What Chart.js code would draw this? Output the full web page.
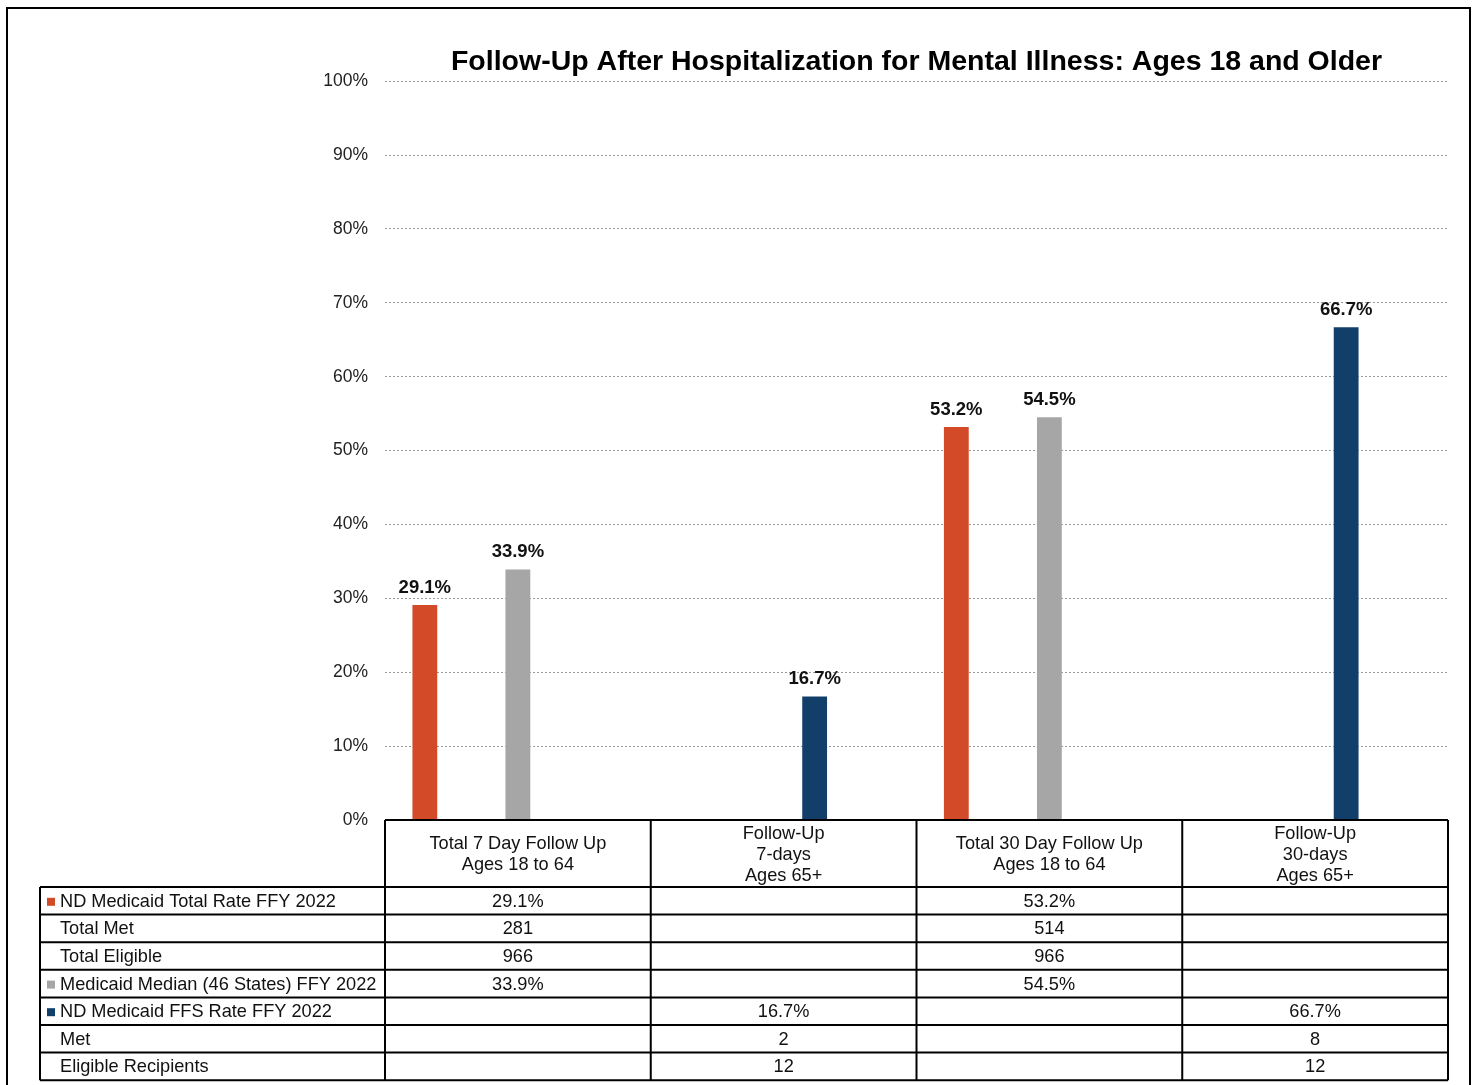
<!DOCTYPE html>
<html>
<head>
<meta charset="utf-8">
<script src="https://cdn.jsdelivr.net/npm/chart.js@4/dist/chart.umd.min.js"></script>
<style>
  html, body { margin: 0; padding: 0; background: #fff; }
  #wrap { position: relative; width: 1476px; height: 1085px; }
</style>
</head>
<body>
<div id="wrap"><canvas id="chart" width="1476" height="1085"></canvas></div>
<script>
// ----- DATA -----
const categories = [
  ['Total 7 Day Follow Up', 'Ages 18 to 64'],
  ['Follow-Up', '7-days', 'Ages 65+'],
  ['Total 30 Day Follow Up', 'Ages 18 to 64'],
  ['Follow-Up', '30-days', 'Ages 65+']
];
const ndTotalRate = [29.1, null, 53.2, null];
const ndTotalMet = [281, null, 514, null];
const ndTotalEligible = [966, null, 966, null];
const medianRate = [33.9, null, 54.5, null];
const ffsRate = [null, 16.7, null, 66.7];
const ffsMet = [null, 2, null, 8];
const ffsEligible = [null, 12, null, 12];
const yTicks = [0, 10, 20, 30, 40, 50, 60, 70, 80, 90, 100];

const FONT = "'Liberation Sans', Arial, sans-serif";
const RED = '#D34A29', GREY = '#A6A6A6', NAVY = '#123F6A';

// rows of the data table, in the same order as the datasets
function rateSet(label, data, color) {
  return { label, data, backgroundColor: color, yAxisID: 'y', isRate: true, key: color };
}
function countSet(label, data) {
  return { label, data, backgroundColor: 'rgba(0,0,0,0)', yAxisID: 'yCount', isRate: false };
}

// ----- PLUGINS -----
const frame = {
  id: 'frame',
  beforeDraw(chart) {
    const ctx = chart.ctx;
    ctx.save();
    ctx.fillStyle = '#fff';
    ctx.fillRect(0, 0, chart.width, chart.height);
    ctx.strokeStyle = '#000';
    ctx.lineWidth = 2;
    ctx.strokeRect(7, 8, 1463, 1100);
    ctx.restore();
  }
};

const barLabels = {
  id: 'barLabels',
  afterDatasetsDraw(chart) {
    const ctx = chart.ctx;
    ctx.save();
    ctx.font = 'bold 18.5px ' + FONT;
    ctx.fillStyle = '#111';
    ctx.textAlign = 'center';
    ctx.textBaseline = 'bottom';
    chart.data.datasets.forEach((ds, i) => {
      if (!ds.isRate) return;
      chart.getDatasetMeta(i).data.forEach((bar, j) => {
        const v = ds.data[j];
        if (v == null) return;
        ctx.fillText(v.toFixed(1) + '%', bar.x, bar.y - 8);
      });
    });
    ctx.restore();
  }
};

const dataTable = {
  id: 'dataTable',
  afterDraw(chart) {
    const { ctx, chartArea, scales: { x } } = chart;
    const n = chart.data.labels.length;
    const colW = (x.right - x.left) / n;
    const top = chartArea.bottom;
    const headH = 67, rowH = 27.6;
    const labelLeft = 40;
    const sets = chart.data.datasets;
    const bodyTop = top + headH;
    const bottom = bodyTop + sets.length * rowH;

    ctx.save();
    ctx.strokeStyle = '#000';
    ctx.lineWidth = 2;
    ctx.beginPath();
    // header
    ctx.moveTo(x.left, top); ctx.lineTo(x.right, top);
    for (let i = 0; i <= n; i++) {
      const cx = x.left + i * colW;
      ctx.moveTo(cx, top); ctx.lineTo(cx, bottom);
    }
    // body
    for (let r = 0; r <= sets.length; r++) {
      const y = bodyTop + r * rowH;
      ctx.moveTo(labelLeft, y); ctx.lineTo(x.right, y);
    }
    ctx.moveTo(labelLeft, bodyTop); ctx.lineTo(labelLeft, bottom);
    ctx.stroke();

    ctx.fillStyle = '#111';
    ctx.font = '18.2px ' + FONT;
    ctx.textBaseline = 'middle';

    // header labels
    ctx.textAlign = 'center';
    chart.data.labels.forEach((lines, i) => {
      const cx = x.getPixelForValue(i);
      const lh = 21;
      const y0 = top + headH / 2 - (lines.length - 1) * lh / 2 + 1;
      lines.forEach((t, k) => ctx.fillText(t, cx, y0 + k * lh));
    });

    // rows
    sets.forEach((ds, r) => {
      const cy = bodyTop + r * rowH + rowH / 2 + 1;
      if (ds.isRate) {
        ctx.fillStyle = ds.key;
        ctx.fillRect(47, cy - 4, 8, 8);
      }
      ctx.fillStyle = '#111';
      ctx.textAlign = 'left';
      ctx.fillText(ds.label, 60, cy);
      ctx.textAlign = 'center';
      ds.data.forEach((v, i) => {
        if (v == null) return;
        const txt = ds.isRate ? v.toFixed(1) + '%' : String(v);
        ctx.fillText(txt, x.getPixelForValue(i), cy);
      });
    });
    ctx.restore();
  }
};

// ----- CHART -----
new Chart(document.getElementById('chart'), {
  type: 'bar',
  data: {
    labels: categories,
    datasets: [
      rateSet('ND Medicaid Total Rate FFY 2022', ndTotalRate, RED),
      countSet('Total Met', ndTotalMet),
      countSet('Total Eligible', ndTotalEligible),
      rateSet('Medicaid Median (46 States) FFY 2022', medianRate, GREY),
      rateSet('ND Medicaid FFS Rate FFY 2022', ffsRate, NAVY),
      countSet('Met', ffsMet),
      countSet('Eligible Recipients', ffsEligible)
    ]
  },
  options: {
    responsive: false,
    animation: false,
    devicePixelRatio: 1,
    categoryPercentage: 0.817,
    barPercentage: 0.8,
    layout: { padding: { left: 0, right: 28, top: 0, bottom: 0 } },
    plugins: {
      legend: { display: false },
      tooltip: { enabled: false },
      title: {
        display: true,
        fullSize: false,
        text: 'Follow-Up After Hospitalization for Mental Illness: Ages 18 and Older',
        color: '#000',
        font: { family: FONT, size: 28.5, weight: 'bold' },
        padding: { top: 45, bottom: 2 }
      }
    },
    scales: {
      x: {
        ticks: { display: false },
        grid: { display: false },
        border: { display: false },
        afterFit(s) { s.height = 265; }
      },
      y: {
        min: 0,
        max: 100,
        afterBuildTicks(s) { s.ticks = yTicks.map(v => ({ value: v })); },
        ticks: {
          padding: 17,
          color: '#222',
          font: { family: FONT, size: 17.5 },
          callback: v => v + '%'
        },
        grid: { color: '#9a9a9a', lineWidth: 1, drawTicks: false },
        border: { display: false, dash: [2, 2] },
        afterFit(s) { s.width = 385; }
      },
      yCount: {
        display: false,
        min: 0,
        max: 1000
      }
    }
  },
  plugins: [frame, barLabels, dataTable]
});
</script>
</body>
</html>
